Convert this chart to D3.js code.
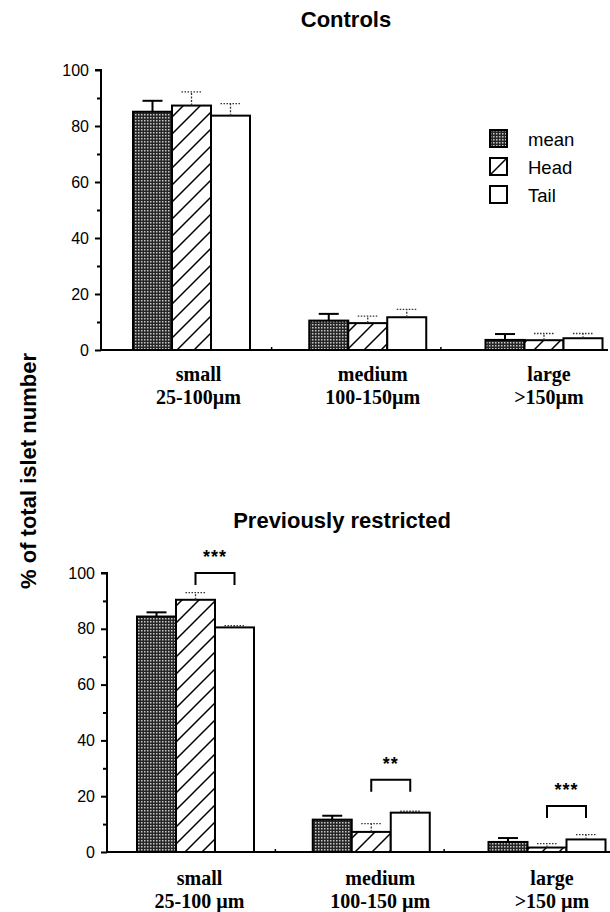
<!DOCTYPE html>
<html>
<head>
<meta charset="utf-8">
<script src="https://cdn.jsdelivr.net/npm/d3@7"></script>
<style>
  html, body { margin: 0; padding: 0; background: #fff; }
  svg { display: block; }
</style>
</head>
<body>
<svg id="chart" width="610" height="912"></svg>
<script>
// ---------------- DATA ----------------
const categories = ["small", "medium", "large"];
const series = ["mean", "Head", "Tail"];
const yTicks = [0, 20, 40, 60, 80, 100];
const yMinorTicks = [10, 30, 50, 70, 90];

const controlsLabels = [["small", "25-100µm"], ["medium", "100-150µm"], ["large", ">150µm"]];
const restrictedLabels = [["small", "25-100 µm"], ["medium", "100-150 µm"], ["large", ">150 µm"]];

// Controls (values, SEM)
const controlsMean = [85.1, 10.5, 3.6];
const controlsMeanSem = [3.9, 2.4, 2.1];
const controlsHead = [87.3, 9.6, 3.5];
const controlsHeadSem = [4.9, 2.5, 2.4];
const controlsTail = [83.7, 11.7, 4.2];
const controlsTailSem = [4.3, 2.8, 1.7];

// Previously restricted (values, SEM)
const restrictedMean = [84.4, 11.6, 3.6];
const restrictedMeanSem = [1.5, 1.4, 1.4];
const restrictedHead = [90.4, 7.2, 1.6];
const restrictedHeadSem = [2.6, 3.0, 1.4];
const restrictedTail = [80.5, 14.1, 4.5];
const restrictedTailSem = [0.6, 0.5, 1.7];

// Significance (Head vs Tail) in previously restricted
const sigStars = ["***", "**", "***"];
const sigLevel = [100, 25.9, 16.5];

// ---------------- DRAW ----------------
const svg = d3.select("#chart");
const defs = svg.append("defs");

// dotted dark pattern for mean
const pm = defs.append("pattern").attr("id", "pMean").attr("patternUnits", "userSpaceOnUse")
  .attr("width", 3).attr("height", 3);
pm.append("rect").attr("width", 3).attr("height", 3).attr("fill", "#262626");
pm.append("rect").attr("x", 0).attr("y", 0).attr("width", 1.5).attr("height", 1.5).attr("fill", "#c8c8c8");

// diagonal hatch for Head
const hs = 17;
const ph = defs.append("pattern").attr("id", "pHead").attr("patternUnits", "userSpaceOnUse")
  .attr("width", hs).attr("height", hs);
ph.append("rect").attr("width", hs).attr("height", hs).attr("fill", "#fff");
ph.append("path").attr("d", `M0,${hs} L${hs},0 M-2,2 L2,-2 M${hs - 2},${hs + 2} L${hs + 2},${hs - 2}`)
  .attr("stroke", "#000").attr("stroke-width", 1.5);

const fills = { mean: "url(#pMean)", Head: "url(#pHead)", Tail: "#fff" };

function drawPanel(cfg) {
  const g = svg.append("g");
  const y = d3.scaleLinear().domain([0, 100]).range([cfg.y0, cfg.y100]);
  const x0 = d3.scalePoint().domain(categories).range(cfg.centers);
  const x1 = d3.scaleBand().domain(series).range([-58.5, 58.5]).padding(0);

  // title
  g.append("text").attr("x", cfg.titleX).attr("y", cfg.titleY)
    .attr("text-anchor", "middle")
    .attr("font-family", "Liberation Sans, Arial, sans-serif")
    .attr("font-weight", "bold").attr("font-size", 22)
    .text(cfg.title);

  // y axis
  const yAxis = d3.axisLeft(y).tickValues(yTicks).tickSize(6).tickPadding(6).tickFormat(d3.format("d"));
  const ya = g.append("g").attr("transform", `translate(${cfg.axisX},0)`).call(yAxis);
  ya.select(".domain").attr("stroke", "#000").attr("stroke-width", 2).attr("d", `M-6,${y(100)}H0V${y(0)}`);
  ya.selectAll(".tick line").attr("stroke-width", 2);
  ya.selectAll(".tick text").attr("font-family", "Liberation Sans, Arial, sans-serif")
    .attr("font-size", 16).attr("fill", "#000");
  const yMinor = d3.axisLeft(y).tickValues(yMinorTicks).tickSize(4).tickFormat("");
  const ym = g.append("g").attr("transform", `translate(${cfg.axisX},0)`).call(yMinor);
  ym.select(".domain").remove();
  ym.selectAll(".tick line").attr("stroke-width", 2);

  // baseline
  g.append("line").attr("x1", cfg.axisX).attr("x2", cfg.baseEnd)
    .attr("y1", y(0)).attr("y2", y(0)).attr("stroke", "#000").attr("stroke-width", 2);
  // small marks between groups
  const mids = [ (x0("small") + x0("medium")) / 2 - 8, (x0("medium") + x0("large")) / 2 - 15 ];
  g.selectAll(".mid").data(mids).enter().append("line")
    .attr("x1", d => d).attr("x2", d => d).attr("y1", y(0)).attr("y2", y(0) - 3)
    .attr("stroke", "#000").attr("stroke-width", 1.5);

  // bars
  const rows = [];
  categories.forEach((c, i) => {
    series.forEach((s, j) => {
      rows.push({ cat: c, ser: s, v: cfg.values[j][i], e: cfg.sems[j][i] });
    });
  });
  const bw = x1.bandwidth();
  g.selectAll(".bar").data(rows).enter().append("rect")
    .attr("x", d => x0(d.cat) + x1(d.ser))
    .attr("y", d => y(d.v))
    .attr("width", bw)
    .attr("height", d => y(0) - y(d.v))
    .attr("fill", d => fills[d.ser])
    .attr("stroke", "#000").attr("stroke-width", 2);

  // error bars
  const eb = g.selectAll(".err").data(rows).enter().append("g");
  eb.append("line")
    .attr("x1", d => x0(d.cat) + x1(d.ser) + bw / 2)
    .attr("x2", d => x0(d.cat) + x1(d.ser) + bw / 2)
    .attr("y1", d => y(d.v)).attr("y2", d => y(d.v + d.e))
    .attr("stroke", d => d.ser === "mean" ? "#000" : "#333")
    .attr("stroke-width", d => d.ser === "mean" ? 2 : 1.3)
    .attr("stroke-dasharray", d => d.ser === "mean" ? null : "2,1.5");
  eb.append("line")
    .attr("x1", d => x0(d.cat) + x1(d.ser) + bw / 2 - 10)
    .attr("x2", d => x0(d.cat) + x1(d.ser) + bw / 2 + 10)
    .attr("y1", d => y(d.v + d.e)).attr("y2", d => y(d.v + d.e))
    .attr("stroke", d => d.ser === "mean" ? "#000" : "#333")
    .attr("stroke-width", d => d.ser === "mean" ? 2 : 1.3)
    .attr("stroke-dasharray", d => d.ser === "mean" ? null : "1.5,1.5");

  // category labels (two separate lines)
  const labs = g.selectAll(".cat").data(categories).enter().append("g")
    .attr("transform", (d, i) => `translate(${x0(d) + cfg.labelShift[i]},${y(0) + cfg.labelDy})`);
  [0, 1].forEach(k => {
    labs.append("text")
      .attr("x", 0).attr("y", k * 22.5)
      .attr("text-anchor", "middle")
      .attr("font-family", "Liberation Serif, Times New Roman, serif")
      .attr("font-weight", "bold").attr("font-size", 20)
      .text((d, i) => cfg.labels[i][k]);
  });

  // significance
  if (cfg.stars) {
    const hx = c => x0(c) + x1("Head") + bw / 2;
    const tx = c => x0(c) + x1("Tail") + bw / 2;
    const sg = g.selectAll(".sig").data(categories).enter().append("g");
    sg.append("path")
      .attr("d", (c, i) => `M${hx(c)},${y(cfg.sigLevel[i]) + 12}V${y(cfg.sigLevel[i])}H${tx(c)}V${y(cfg.sigLevel[i]) + 12}`)
      .attr("fill", "none").attr("stroke", "#000").attr("stroke-width", 2);
    sg.append("text")
      .attr("x", c => (hx(c) + tx(c)) / 2)
      .attr("y", (c, i) => y(cfg.sigLevel[i]) - 10)
      .attr("text-anchor", "middle")
      .attr("font-family", "Liberation Sans, Arial, sans-serif")
      .attr("font-weight", "bold").attr("font-size", 18).attr("letter-spacing", 1)
      .text((c, i) => cfg.stars[i]);
  }
  return g;
}

drawPanel({
  title: "Controls", titleX: 346, titleY: 27,
  axisX: 101, baseEnd: 608, y0: 350, y100: 70,
  centers: [191.5, 544],
  values: [controlsMean, controlsHead, controlsTail],
  sems: [controlsMeanSem, controlsHeadSem, controlsTailSem],
  labels: controlsLabels, labelShift: [7, 5, 5], labelDy: 31
});

drawPanel({
  title: "Previously restricted", titleX: 342, titleY: 528,
  axisX: 107, baseEnd: 610, y0: 852, y100: 573,
  centers: [195.5, 547],
  values: [restrictedMean, restrictedHead, restrictedTail],
  sems: [restrictedMeanSem, restrictedHeadSem, restrictedTailSem],
  labels: restrictedLabels, labelShift: [4, 9, 5], labelDy: 33,
  stars: sigStars, sigLevel: sigLevel
});

// y-axis title
svg.append("text")
  .attr("transform", "translate(36,471) rotate(-90)")
  .attr("text-anchor", "middle")
  .attr("font-family", "Liberation Sans, Arial, sans-serif")
  .attr("font-weight", "bold").attr("font-size", 22)
  .text("% of total islet number");

// legend
const legend = svg.append("g").attr("transform", "translate(490,130)");
const li = legend.selectAll(".li").data(series).enter().append("g")
  .attr("transform", (d, i) => `translate(0,${i * 28})`);
li.append("rect").attr("width", 17).attr("height", 17)
  .attr("fill", d => fills[d]).attr("stroke", "#000").attr("stroke-width", 2);
li.append("text").attr("x", 38).attr("y", 16)
  .attr("font-family", "Liberation Sans, Arial, sans-serif")
  .attr("font-size", 18.5).text(d => d);
</script>
</body>
</html>
